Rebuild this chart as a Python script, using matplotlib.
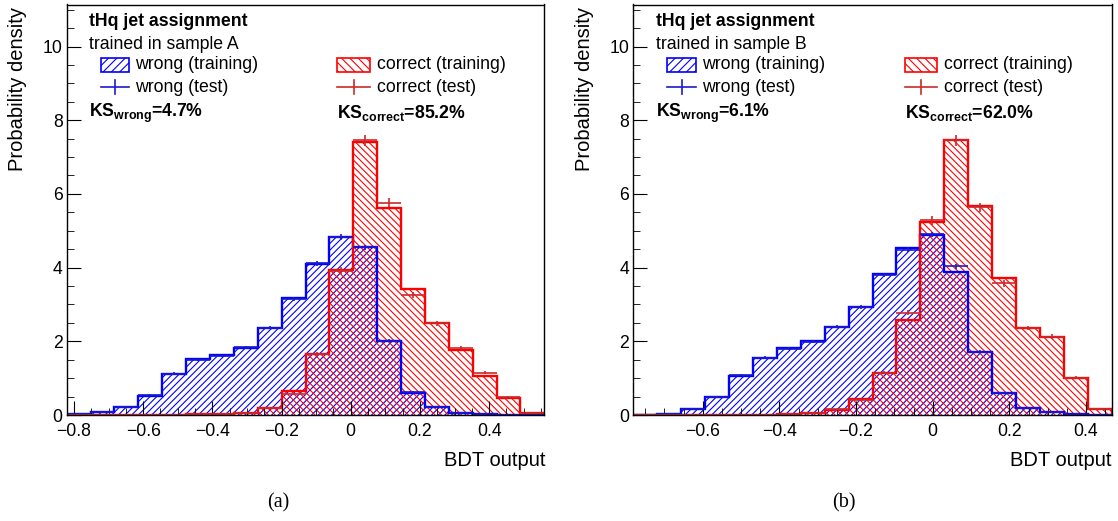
import numpy as np
import matplotlib
matplotlib.use('Agg')
import matplotlib.pyplot as plt
from matplotlib.patches import Rectangle
from matplotlib.lines import Line2D
from matplotlib.ticker import MultipleLocator

plt.rcParams['font.family'] = ['Liberation Sans', 'DejaVu Sans']
plt.rcParams['mathtext.fontset'] = 'custom'
plt.rcParams['mathtext.rm'] = 'Liberation Sans'
plt.rcParams['mathtext.bf'] = 'Liberation Sans:bold'
plt.rcParams['hatch.linewidth'] = 0.8

# BDT output histograms, 20 bins each
nbins = 20
range_a = (-0.821, 0.5595)
range_b = (-0.781, 0.467)

wrong_train_a = [0.02, 0.09, 0.23, 0.52, 1.11, 1.51, 1.62, 1.82, 2.35, 3.17,
                 4.10, 4.82, 4.57, 2.01, 0.61, 0.23, 0.06, 0.02, 0.01, 0.00]
wrong_test_a = [0.02, 0.08, 0.22, 0.53, 1.12, 1.49, 1.60, 1.84, 2.37, 3.15,
                4.12, 4.84, 4.55, 2.02, 0.62, 0.22, 0.06, 0.02, 0.01, 0.00]
correct_train_a = [0.00, 0.00, 0.00, 0.01, 0.01, 0.02, 0.03, 0.05, 0.18, 0.65,
                   1.66, 3.94, 7.42, 5.61, 3.41, 2.49, 1.76, 1.06, 0.47, 0.06]
correct_test_a = [0.00, 0.00, 0.00, 0.01, 0.01, 0.02, 0.03, 0.05, 0.19, 0.56,
                  1.65, 3.92, 7.45, 5.76, 3.26, 2.49, 1.81, 1.15, 0.50, 0.06]

wrong_train_b = [0.00, 0.03, 0.15, 0.50, 1.06, 1.54, 1.81, 2.00, 2.38, 2.93,
                 3.82, 4.52, 4.89, 3.89, 1.70, 0.59, 0.20, 0.08, 0.03, 0.01]
wrong_test_b = [0.00, 0.03, 0.16, 0.49, 1.08, 1.55, 1.80, 1.99, 2.40, 2.92,
                3.80, 4.49, 4.90, 4.03, 1.71, 0.60, 0.20, 0.08, 0.03, 0.01]
correct_train_b = [0.00, 0.00, 0.00, 0.00, 0.01, 0.01, 0.02, 0.05, 0.14, 0.43,
                   1.13, 2.58, 5.25, 7.45, 5.66, 3.71, 2.35, 2.13, 1.01, 0.16]
correct_test_b = [0.00, 0.00, 0.00, 0.00, 0.01, 0.01, 0.02, 0.05, 0.15, 0.42,
                  1.15, 2.78, 5.28, 7.45, 5.64, 3.57, 2.36, 2.13, 1.01, 0.16]

samples = ['A', 'B']
ks_wrong = ['4.7', '6.1']
ks_correct = ['85.2', '62.0']
captions = ['(a)', '(b)']

BLUE = '#0000ff'
RED = '#ff0000'
BLUE_TEST = '#1a1ad0'
RED_TEST = '#cc2a2a'


def tick_fmt(v, pos):
    if abs(v) < 1e-9:
        return '0'
    return ('%.1f' % v).replace('-', '\u2212')


def draw_panel(ax, xrange_, wtr, wte, ctr, cte, sample, ksw, ksc):
    edges = np.linspace(xrange_[0], xrange_[1], nbins + 1)
    centers = 0.5 * (edges[1:] + edges[:-1])
    half = 0.5 * (edges[1] - edges[0])
    wtr, wte, ctr, cte = map(np.asarray, (wtr, wte, ctr, cte))

    # hatched fills
    ax.stairs(wtr, edges, fill=True, facecolor='none', edgecolor=BLUE,
              hatch='/////', linewidth=0)
    ax.stairs(ctr, edges, fill=True, facecolor='none', edgecolor=RED,
              hatch='\\\\\\\\\\', linewidth=0)
    # outlines
    ax.stairs(wtr, edges, color=BLUE, linewidth=1.7, baseline=0)
    ax.stairs(ctr, edges, color=RED, linewidth=1.7, baseline=0)

    # test samples as points with errors
    ax.errorbar(centers, wte, xerr=half, yerr=0.02 + 0.012 * wte, fmt='none',
                ecolor=BLUE_TEST, elinewidth=1.2)
    ax.errorbar(centers, cte, xerr=half, yerr=0.02 + 0.018 * cte, fmt='none',
                ecolor=RED_TEST, elinewidth=1.2)

    ax.set_xlim(*xrange_)
    ax.set_ylim(0, 11.14)
    ax.xaxis.set_major_locator(MultipleLocator(0.2))
    ax.xaxis.set_minor_locator(MultipleLocator(0.05))
    ax.yaxis.set_major_locator(MultipleLocator(2))
    ax.yaxis.set_minor_locator(MultipleLocator(0.5))
    ax.xaxis.set_major_formatter(matplotlib.ticker.FuncFormatter(tick_fmt))
    ax.tick_params(which='both', direction='in', top=False, right=False,
                   labelsize=12.7, color='black')
    ax.tick_params(which='major', length=10)
    ax.tick_params(which='minor', length=5)
    ax.tick_params(axis='x', which='major', pad=5.5)
    ax.tick_params(axis='y', which='major', pad=3)
    for sp in ax.spines.values():
        sp.set_linewidth(1.0)

    tr = ax.transAxes
    ax.text(0.047, 0.958, 'tHq jet assignment', transform=tr, fontsize=12.7,
            fontweight='bold', va='center', ha='left')
    ax.text(0.047, 0.902, 'trained in sample ' + sample, transform=tr,
            fontsize=12.7, va='center', ha='left')

    # legend
    bw, bh = 0.06, 0.034
    ax.add_patch(Rectangle((0.071, 0.853 - bh / 2), bw, bh, transform=tr,
                           facecolor='none', edgecolor=BLUE, hatch='////',
                           linewidth=1.2))
    ax.add_patch(Rectangle((0.567, 0.853 - bh / 2), 0.068, bh, transform=tr,
                           facecolor='none', edgecolor=RED, hatch='\\\\\\\\',
                           linewidth=1.2))
    for x0, w, col in [(0.071, bw, BLUE_TEST), (0.567, 0.068, RED_TEST)]:
        ax.add_line(Line2D([x0, x0 + w], [0.799, 0.799], transform=tr,
                           color=col, linewidth=1.2))
        ax.add_line(Line2D([x0 + w / 2] * 2, [0.799 - 0.017, 0.799 + 0.017],
                           transform=tr, color=col, linewidth=1.2))
    ax.text(0.143, 0.853, 'wrong (training)', transform=tr, fontsize=12.7,
            va='center')
    ax.text(0.143, 0.799, 'wrong (test)', transform=tr, fontsize=12.7,
            va='center')
    ax.text(0.649, 0.853, 'correct (training)', transform=tr, fontsize=12.7,
            va='center')
    ax.text(0.649, 0.799, 'correct (test)', transform=tr, fontsize=12.7,
            va='center')

    ax.text(0.047, 0.735, r'KS$_{\mathbf{wrong}}$=' + ksw + '%', transform=tr,
            fontsize=12.7, fontweight='bold', va='center')
    ax.text(0.567, 0.735, r'KS$_{\mathbf{correct}}$=' + ksc + '%', transform=tr,
            fontsize=12.7, fontweight='bold', va='center')


W, H = 1118, 521
fig = plt.figure(figsize=(W / 100, H / 100), dpi=100)
ax_a = fig.add_axes([66.7 / W, 1 - 415 / H, 477.6 / W, 410.5 / H])
ax_b = fig.add_axes([633.3 / W, 1 - 415 / H, 478.4 / W, 410.5 / H])

draw_panel(ax_a, range_a, wrong_train_a, wrong_test_a, correct_train_a,
           correct_test_a, samples[0], ks_wrong[0], ks_correct[0])
draw_panel(ax_b, range_b, wrong_train_b, wrong_test_b, correct_train_b,
           correct_test_b, samples[1], ks_wrong[1], ks_correct[1])

for x_lab, x_ylab, x_cap, cap in [(545, 18, 278, captions[0]),
                                  (1112, 584, 844, captions[1])]:
    fig.text(x_lab / W, 1 - 460 / H, 'BDT output', ha='right', va='center',
             fontsize=14.5)
    fig.text(x_ylab / W, 1 - 7 / H, 'Probability density', rotation=90,
             ha='center', va='top', fontsize=14.5)
    fig.text(x_cap / W, 1 - 503 / H, cap, ha='center', va='center',
             fontsize=14.5, family='Liberation Serif')

fig.savefig('out.png', dpi=100)
